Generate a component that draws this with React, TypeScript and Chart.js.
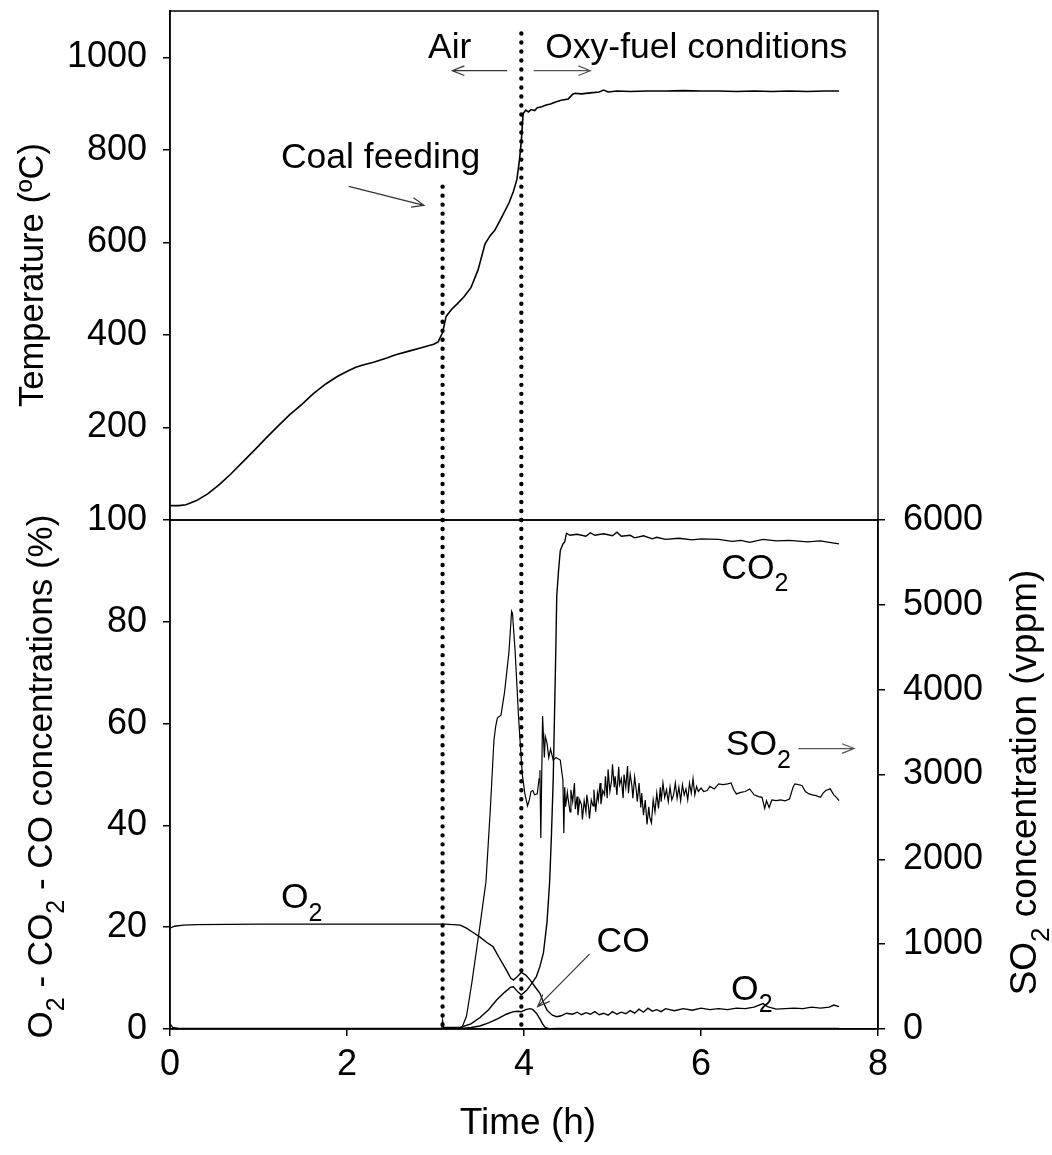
import React, { useEffect, useRef } from 'react';
import { Chart, registerables } from 'chart.js';

Chart.register(...registerables);

const FONT = '"Liberation Sans", Arial, Helvetica, sans-serif';
const TICK_SIZE = 36;
const NOTE_SIZE = 35.5;

// ---- ticks ----
const timeTicks = [0, 2, 4, 6, 8];
const tempTicks = [200, 400, 600, 800, 1000];
const concTicks = [0, 20, 40, 60, 80, 100];
const so2Ticks = [0, 1000, 2000, 3000, 4000, 5000, 6000];

// ---- event times (h) ----
const coalFeedingTime = 3.08;
const oxyFuelSwitchTime = 3.97;

// ---- temperature (top panel, ºC) ----
const tempTime = [0, 0.1, 0.18, 0.3, 0.43, 0.56, 0.69, 0.82, 0.96, 1.09, 1.22, 1.35, 1.49, 1.62, 1.76, 1.89, 2.02, 2.1, 2.18, 2.3, 2.45, 2.55, 2.7, 2.85, 2.98, 3.03, 3.08, 3.12, 3.18, 3.24, 3.32, 3.4, 3.48, 3.56, 3.62, 3.67, 3.75, 3.83, 3.88, 3.92, 3.95, 3.97, 3.99, 4.02, 4.05, 4.08, 4.12, 4.15, 4.2, 4.25, 4.3, 4.35, 4.42, 4.5, 4.55, 4.58, 4.65, 4.75, 4.85, 4.9, 4.95, 5.05, 5.2, 5.4, 5.6, 5.8, 6.0, 6.2, 6.4, 6.6, 6.8, 7.0, 7.2, 7.4, 7.56];
const tempValues = [31, 31, 33, 42, 57, 77, 100, 125, 152, 178, 203, 227, 250, 273, 294, 310, 323, 330, 335, 341, 350, 357, 365, 373, 380, 385, 405, 440, 455, 466, 482, 502, 540, 597, 615, 626, 655, 685, 710, 736, 780, 820, 878, 886, 882, 887, 885, 891, 893, 897, 899, 903, 907, 910, 920, 922, 921, 923, 925, 929, 925, 927, 926, 927, 927, 928, 927, 927, 926, 927, 926, 927, 926, 927, 927];

// ---- gas concentrations (bottom panel, %) ----
const o2Time = [0, 0.05, 0.15, 0.3, 1.0, 2.0, 3.0, 3.1, 3.2, 3.28, 3.35, 3.42, 3.5, 3.58, 3.65, 3.72, 3.8, 3.85, 3.88, 3.92, 3.97, 4.02, 4.07, 4.12, 4.18, 4.22, 4.26, 4.32, 4.37, 4.42, 4.48, 4.55, 4.6, 4.65, 4.7, 4.75, 4.8, 4.85, 4.9, 4.95, 5.0, 5.05, 5.1, 5.15, 5.2, 5.25, 5.3, 5.35, 5.4, 5.45, 5.5, 5.55, 5.6, 5.7, 5.8, 5.9, 6.0, 6.1, 6.2, 6.3, 6.4, 6.5, 6.6, 6.7, 6.75, 6.85, 6.95, 7.05, 7.15, 7.25, 7.35, 7.45, 7.5, 7.56];
const o2Values = [19.8, 20.2, 20.4, 20.5, 20.6, 20.6, 20.6, 20.6, 20.5, 20.4, 19.8, 19.0, 18.1, 17.0, 16.2, 14.0, 11.6, 10.0, 9.6, 10.2, 11.1, 10.6, 9.6, 8.4, 7.0, 5.2, 3.7, 2.7, 2.4, 2.6, 3.1, 2.9, 3.3, 2.8, 3.2, 2.9, 3.4, 2.8, 3.1, 2.7, 3.4, 2.9, 3.3, 3.0, 3.6, 3.1, 3.9, 3.3, 4.1, 3.5, 3.8, 3.4, 4.0, 3.6, 4.0, 3.7, 4.1, 3.8, 4.0, 3.8, 4.1, 4.0, 4.3, 5.0, 4.4, 3.9, 4.0, 4.1, 4.0, 4.3, 4.1, 4.3, 4.7, 4.4];

const co2Time = [0, 0.03, 0.1, 3.08, 3.15, 3.28, 3.4, 3.5, 3.6, 3.69, 3.78, 3.85, 3.88, 3.93, 3.97, 4.03, 4.09, 4.14, 4.18, 4.22, 4.26, 4.29, 4.31, 4.33, 4.345, 4.36, 4.37, 4.39, 4.41, 4.44, 4.46, 4.48, 4.52, 4.6, 4.7, 4.75, 4.8, 4.9, 5.0, 5.05, 5.1, 5.2, 5.25, 5.35, 5.45, 5.5, 5.6, 5.75, 5.9, 6.0, 6.2, 6.35, 6.45, 6.55, 6.7, 6.85, 7.0, 7.2, 7.35, 7.45, 7.56];
const co2Values = [1.0, 0.3, 0.1, 0.1, 0.1, 0.3, 1.0, 2.2, 3.8, 5.7, 7.2, 8.2, 8.3, 7.3, 6.7, 7.6, 9.0, 10.3, 12.3, 15.0, 21.0, 29.0, 38.0, 49.0, 62.0, 75.0, 85.0, 90.0, 94.0, 95.3, 95.7, 97.4, 97.0, 97.2, 96.8, 97.5, 97.0, 97.3, 96.9, 97.6, 96.8, 97.0, 96.5, 96.9, 96.3, 96.6, 96.2, 96.4, 96.1, 96.3, 96.2, 95.8, 96.0, 95.6, 96.2, 95.9, 96.0, 95.7, 95.9, 95.6, 95.3];

const coTime = [0, 3.2, 3.3, 3.4, 3.5, 3.6, 3.7, 3.8, 3.88, 3.93, 3.97, 4.02, 4.07, 4.1, 4.14, 4.18, 4.21, 4.24, 4.28, 4.4, 5.0, 6.0, 7.0, 7.56];
const coValues = [0, 0, 0.1, 0.3, 0.6, 1.2, 2.0, 2.9, 3.4, 3.5, 3.4, 3.8, 4.0, 3.8, 3.1, 2.0, 1.0, 0.3, 0.05, 0.1, 0.1, 0.1, 0.1, 0.1];

// ---- SO2 (bottom panel, right axis, vppm) ----
const so2Time = [0, 3.07, 3.08, 3.09, 3.3, 3.35, 3.41, 3.5, 3.57, 3.62, 3.66, 3.68, 3.7, 3.74, 3.78, 3.83, 3.86, 3.87, 3.9, 3.94, 3.98, 4.01, 4.04, 4.06, 4.08, 4.1, 4.12, 4.15, 4.17, 4.18, 4.19, 4.21, 4.23, 4.24, 4.26, 4.28, 4.3, 4.33, 4.36, 4.41, 4.44, 4.45, 4.46, 4.47, 4.49, 4.5, 4.52, 4.53, 4.55, 4.57, 4.58, 4.6, 4.61, 4.63, 4.65, 4.66, 4.68, 4.7, 4.71, 4.73, 4.74, 4.76, 4.78, 4.79, 4.81, 4.83, 4.84, 4.86, 4.87, 4.89, 4.91, 4.92, 4.94, 4.95, 4.97, 4.99, 5.0, 5.02, 5.03, 5.05, 5.07, 5.08, 5.1, 5.12, 5.13, 5.15, 5.17, 5.18, 5.2, 5.22, 5.23, 5.25, 5.27, 5.28, 5.3, 5.32, 5.33, 5.35, 5.37, 5.39, 5.41, 5.42, 5.44, 5.46, 5.48, 5.5, 5.52, 5.54, 5.55, 5.57, 5.59, 5.61, 5.63, 5.65, 5.67, 5.69, 5.71, 5.73, 5.75, 5.77, 5.79, 5.81, 5.83, 5.85, 5.87, 5.89, 5.91, 5.93, 5.95, 5.97, 6.0, 6.03, 6.07, 6.1, 6.15, 6.2, 6.25, 6.3, 6.34, 6.37, 6.4, 6.45, 6.5, 6.55, 6.6, 6.65, 6.69, 6.72, 6.74, 6.77, 6.8, 6.85, 6.9, 6.95, 7.0, 7.04, 7.06, 7.1, 7.14, 7.18, 7.22, 7.26, 7.3, 7.35, 7.38, 7.41, 7.46, 7.5, 7.53, 7.56];
const so2Values = [0, 0, 100, 20, 20, 150, 540, 1200, 1734, 2600, 3400, 3568, 3668, 3700, 3967, 4445, 4924, 4900, 4445, 3648, 3010, 2771, 2631, 2700, 2800, 2811, 2760, 2771, 2950, 3050, 2253, 3688, 3200, 3450, 3369, 3200, 3300, 3170, 3200, 3170, 2930, 2312, 2851, 2620, 2790, 2700, 2560, 2820, 2680, 2900, 2590, 2740, 2520, 2700, 2640, 2470, 2690, 2560, 2760, 2610, 2480, 2700, 2630, 2820, 2560, 2780, 2700, 2900, 2650, 2810, 2760, 2980, 2720, 3060, 2800, 2930, 3120, 2850, 2980, 2760, 3090, 2880, 2950, 2720, 3000, 2850, 3100, 2780, 3000, 2860, 2720, 2970, 2800, 2680, 2900, 2611, 2780, 2520, 2700, 2412, 2620, 2500, 2430, 2700, 2560, 2780, 2600, 2850, 2680, 2900, 2730, 2820, 2680, 2851, 2700, 2760, 2900, 2720, 2850, 2690, 2880, 2760, 2830, 2700, 2900, 2780, 2950, 2760, 2860, 2800, 2840, 2800, 2811, 2860, 2830, 2890, 2880, 2890, 2900, 2820, 2771, 2790, 2800, 2830, 2760, 2740, 2731, 2600, 2690, 2611, 2700, 2691, 2700, 2690, 2711, 2850, 2890, 2880, 2871, 2800, 2771, 2760, 2751, 2731, 2780, 2811, 2831, 2760, 2731, 2691];

const toPoints = (xs: number[], ys: number[]) => xs.map((x, i) => ({ x, y: ys[i] }));

type Part = [string, boolean];

function partsWidth(ctx: CanvasRenderingContext2D, parts: Part[], size: number) {
  let w = 0;
  for (const [t, sub] of parts) {
    ctx.font = `${sub ? Math.round(size * 0.7) : size}px ${FONT}`;
    w += ctx.measureText(t).width;
  }
  return w;
}

function drawParts(ctx: CanvasRenderingContext2D, parts: Part[], x: number, y: number, size: number) {
  let cx = x;
  ctx.textAlign = 'left';
  ctx.textBaseline = 'alphabetic';
  for (const [t, sub] of parts) {
    ctx.font = `${sub ? Math.round(size * 0.7) : size}px ${FONT}`;
    ctx.fillText(t, cx, sub ? y + size * 0.35 : y);
    cx += ctx.measureText(t).width;
  }
}

function drawRotated(ctx: CanvasRenderingContext2D, parts: Part[], baseX: number, centerY: number, size: number) {
  ctx.save();
  ctx.translate(baseX, centerY);
  ctx.rotate(-Math.PI / 2);
  ctx.fillStyle = '#000';
  const w = partsWidth(ctx, parts, size);
  drawParts(ctx, parts, -w / 2, 0, size);
  ctx.restore();
}

function arrow(ctx: CanvasRenderingContext2D, x1: number, y1: number, x2: number, y2: number, color: string) {
  ctx.save();
  ctx.strokeStyle = color;
  ctx.lineWidth = 1.2;
  ctx.beginPath();
  ctx.moveTo(x1, y1);
  ctx.lineTo(x2, y2);
  const a = Math.atan2(y2 - y1, x2 - x1);
  const len = 13;
  const s = 0.38;
  ctx.moveTo(x2 - len * Math.cos(a - s), y2 - len * Math.sin(a - s));
  ctx.lineTo(x2, y2);
  ctx.lineTo(x2 - len * Math.cos(a + s), y2 - len * Math.sin(a + s));
  ctx.stroke();
  ctx.restore();
}

function dotted(ctx: CanvasRenderingContext2D, x: number, yFrom: number, yTo: number) {
  ctx.save();
  ctx.strokeStyle = '#000';
  ctx.lineWidth = 4.4;
  ctx.lineCap = 'round';
  ctx.setLineDash([0.01, 9]);
  ctx.beginPath();
  ctx.moveTo(x, yFrom);
  ctx.lineTo(x, yTo);
  ctx.stroke();
  ctx.restore();
}

const framePlugin = {
  id: 'frame',
  afterDatasetsDraw(chart: any) {
    const { ctx, chartArea } = chart;
    ctx.save();
    ctx.strokeStyle = '#000';
    ctx.lineWidth = 1.5;
    ctx.strokeRect(chartArea.left, chartArea.top, chartArea.right - chartArea.left, chartArea.bottom - chartArea.top);
    ctx.restore();
  },
};

const topNotes = {
  id: 'topNotes',
  afterDraw(chart: any) {
    const { ctx, chartArea } = chart;
    const x = chart.scales.x;
    const y = chart.scales.yT;
    const X = (v: number) => x.getPixelForValue(v);
    const Y = (v: number) => y.getPixelForValue(v);
    dotted(ctx, X(coalFeedingTime), chartArea.bottom, Y(738));
    dotted(ctx, X(oxyFuelSwitchTime), chartArea.bottom, Y(1058));
    ctx.fillStyle = '#000';
    drawParts(ctx, [['Coal feeding', false]], X(1.254), Y(760), NOTE_SIZE);
    drawParts(ctx, [['Air', false]], X(2.915), Y(998), NOTE_SIZE);
    drawParts(ctx, [['Oxy-fuel conditions', false]], X(4.24), Y(998), NOTE_SIZE);
    arrow(ctx, X(2.02), Y(721), X(2.87), Y(680), '#333');
    arrow(ctx, X(3.81), Y(971), X(3.19), Y(971), '#333');
    arrow(ctx, X(4.11), Y(971), X(4.75), Y(971), '#555');
    drawRotated(ctx, [['Temperature (ºC)', false]], 43, 275, 34.5);
  },
};

const bottomNotes = {
  id: 'bottomNotes',
  afterDraw(chart: any) {
    const { ctx, chartArea } = chart;
    const x = chart.scales.x;
    const y = chart.scales.yC;
    const X = (v: number) => x.getPixelForValue(v);
    const Y = (v: number) => y.getPixelForValue(v);
    dotted(ctx, X(coalFeedingTime), chartArea.top, chartArea.bottom);
    dotted(ctx, X(oxyFuelSwitchTime), chartArea.top, chartArea.bottom);
    ctx.fillStyle = '#000';
    drawParts(ctx, [['CO', false], ['2', true]], X(6.23), Y(88.4), NOTE_SIZE);
    drawParts(ctx, [['SO', false], ['2', true]], X(6.28), Y(53.8), NOTE_SIZE);
    drawParts(ctx, [['O', false], ['2', true]], X(1.254), Y(23.7), NOTE_SIZE);
    drawParts(ctx, [['CO', false]], X(4.82), Y(15.1), NOTE_SIZE);
    drawParts(ctx, [['O', false], ['2', true]], X(6.34), Y(5.7), NOTE_SIZE);
    arrow(ctx, X(7.1), Y(55.1), X(7.73), Y(55.1), '#555');
    arrow(ctx, X(4.74), Y(14.7), X(4.155), Y(4.4), '#333');
    const midY = (chartArea.top + chartArea.bottom) / 2;
    drawRotated(ctx, [['O', false], ['2', true], [' - CO', false], ['2', true], [' - CO concentrations (%)', false]], 52, midY + 2, 35);
    drawRotated(ctx, [['SO', false], ['2', true], [' concentration (vppm)', false]], 1036, midY + 8, 37);
    ctx.save();
    ctx.fillStyle = '#000';
    ctx.font = `37px ${FONT}`;
    ctx.textAlign = 'center';
    ctx.textBaseline = 'alphabetic';
    ctx.fillText('Time (h)', (chartArea.left + chartArea.right) / 2 + 4, chartArea.bottom + 105);
    ctx.restore();
  },
};

const axisGrid = { drawOnChartArea: false, drawTicks: true, tickLength: 7, color: '#000', lineWidth: 1.5 };
const axisBorder = { display: true, color: '#000', width: 1.5 };
const tickFont = { family: FONT, size: TICK_SIZE };
const setTicks = (vals: number[]) => (s: any) => {
  s.ticks = vals.map((v) => ({ value: v }));
};

export default function App() {
  const topRef = useRef<HTMLCanvasElement>(null);
  const botRef = useRef<HTMLCanvasElement>(null);

  useEffect(() => {
    document.body.style.margin = '0';
    const top = new Chart(topRef.current as HTMLCanvasElement, {
      type: 'line',
      data: {
        datasets: [
          {
            data: toPoints(tempTime, tempValues),
            borderColor: '#000',
            borderWidth: 1.6,
            pointRadius: 0,
            tension: 0,
            yAxisID: 'yT',
            xAxisID: 'x',
          },
        ],
      },
      options: {
        responsive: false,
        animation: false,
        devicePixelRatio: 1,
        events: [],
        layout: { padding: { top: 11, bottom: 10, left: 0, right: 174 } },
        plugins: { legend: { display: false }, tooltip: { enabled: false } },
        scales: {
          x: { type: 'linear', min: 0, max: 8, display: false },
          yT: {
            type: 'linear',
            position: 'left',
            min: 0,
            max: 1100,
            afterBuildTicks: setTicks(tempTicks),
            afterFit: (s: any) => {
              s.width = 170;
              s.paddingTop = 0;
              s.paddingBottom = 0;
            },
            grid: axisGrid,
            border: axisBorder,
            ticks: { font: tickFont, color: '#000', padding: 16, callback: (v: any) => String(v) },
          },
        },
      } as any,
      plugins: [framePlugin, topNotes],
    });

    const bottom = new Chart(botRef.current as HTMLCanvasElement, {
      type: 'line',
      data: {
        datasets: [
          { data: toPoints(co2Time, co2Values), borderColor: '#000', borderWidth: 1.4, pointRadius: 0, tension: 0, yAxisID: 'yC' },
          { data: toPoints(o2Time, o2Values), borderColor: '#000', borderWidth: 1.4, pointRadius: 0, tension: 0, yAxisID: 'yC' },
          { data: toPoints(coTime, coValues), borderColor: '#000', borderWidth: 1.4, pointRadius: 0, tension: 0, yAxisID: 'yC' },
          { data: toPoints(so2Time, so2Values), borderColor: '#000', borderWidth: 1.2, pointRadius: 0, tension: 0, yAxisID: 'yS' },
        ],
      },
      options: {
        responsive: false,
        animation: false,
        devicePixelRatio: 1,
        events: [],
        layout: { padding: { top: 30, bottom: 0, left: 0, right: 0 } },
        plugins: { legend: { display: false }, tooltip: { enabled: false } },
        scales: {
          x: {
            type: 'linear',
            position: 'bottom',
            min: 0,
            max: 8,
            afterBuildTicks: setTicks(timeTicks),
            afterFit: (s: any) => {
              s.height = 126;
              s.paddingLeft = 0;
              s.paddingRight = 0;
            },
            grid: axisGrid,
            border: axisBorder,
            ticks: { font: tickFont, color: '#000', padding: 7, maxRotation: 0, callback: (v: any) => String(v) },
          },
          yC: {
            type: 'linear',
            position: 'left',
            min: 0,
            max: 100,
            afterBuildTicks: setTicks(concTicks),
            afterFit: (s: any) => {
              s.width = 170;
              s.paddingTop = 0;
              s.paddingBottom = 0;
            },
            grid: axisGrid,
            border: axisBorder,
            ticks: { font: tickFont, color: '#000', padding: 16, callback: (v: any) => String(v) },
          },
          yS: {
            type: 'linear',
            position: 'right',
            min: 0,
            max: 6000,
            afterBuildTicks: setTicks(so2Ticks),
            afterFit: (s: any) => {
              s.width = 174;
              s.paddingTop = 0;
              s.paddingBottom = 0;
            },
            grid: axisGrid,
            border: axisBorder,
            ticks: { font: tickFont, color: '#000', padding: 18, callback: (v: any) => String(v) },
          },
        },
      } as any,
      plugins: [framePlugin, bottomNotes],
    });

    return () => {
      top.destroy();
      bottom.destroy();
    };
  }, []);

  return (
    <div style={{ position: 'fixed', left: 0, top: 0, width: 1052, height: 1155, background: '#fff' }}>
      <canvas ref={topRef} width={1052} height={530} style={{ position: 'absolute', left: 0, top: 0, width: 1052, height: 530 }} />
      <canvas ref={botRef} width={1052} height={665} style={{ position: 'absolute', left: 0, top: 490, width: 1052, height: 665 }} />
    </div>
  );
}
